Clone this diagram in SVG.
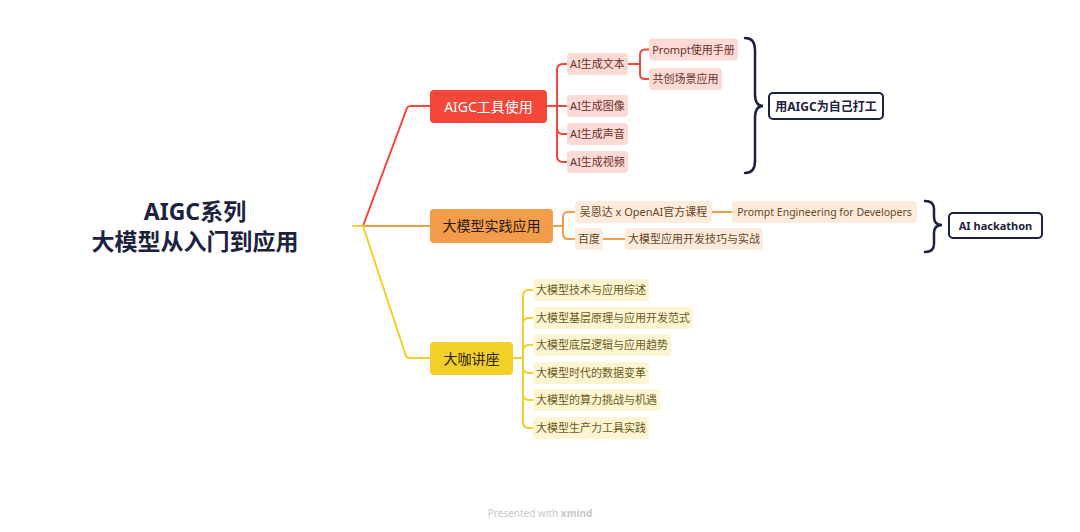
<svg xmlns="http://www.w3.org/2000/svg" width="1080" height="532" viewBox="0 0 1080 532">
<style>
text{font-family:"Noto Sans","Noto Sans CJK SC",sans-serif;}
.central{font-size:23px;font-weight:bold;fill:#1c2240;text-anchor:middle;}
.main{font-size:14px;text-anchor:middle;}
.sub{font-size:11px;text-anchor:middle;}
.c{fill:none;stroke-width:2;stroke-linecap:round;stroke-linejoin:round;}
.red{stroke:#F5463A;}
.org{stroke:#F39C4A;}
.yel{stroke:#F2D027;}
.rsub rect{fill:#FDDAD6;}
.rsub text{fill:#6e2f29;}
.osub rect{fill:#FDEBDB;}
.osub text{fill:#6b4526;}
.ysub rect{fill:#FDF4D2;}
.ysub text{fill:#6b5c1c;}
.brace{fill:none;stroke:#1c2240;stroke-width:2.5;stroke-linecap:round;}
.sum rect{fill:#fff;stroke:#1c2240;stroke-width:2;}
.sum text{font-size:12px;font-weight:bold;fill:#1c2240;text-anchor:middle;}
</style>
<rect width="1080" height="532" fill="#fff"/>
<g id="connectors">
  <path class="c yel" d="M353,226 H363"/>
  <path class="c red" d="M363,226 L407,108 Q408,106 411,106 H430"/>
  <path class="c org" d="M363,226 H430"/>
  <path class="c yel" d="M363,226 L406,356 Q407,358 410,358 H430"/>
  <path class="c red" d="M547,106 H557"/>
  <path class="c red" d="M557,106 V70 Q557,64 563,64 H567"/>
  <path class="c red" d="M557,106 H567"/>
  <path class="c red" d="M557,106 V128 Q557,134 563,134 H567"/>
  <path class="c red" d="M557,106 V156 Q557,162 563,162 H567"/>
  <path class="c red" d="M628,64 H640"/>
  <path class="c red" d="M640,64 V55 Q640,49.5 645,49.5 H649"/>
  <path class="c red" d="M640,64 V74 Q640,79 645,79 H649"/>
  <path class="c org" d="M553,226 H563"/>
  <path class="c org" d="M563,226 V217 Q563,212 568,212 H575"/>
  <path class="c org" d="M563,226 V234 Q563,239 568,239 H575"/>
  <path class="c org" d="M712,212 H732"/>
  <path class="c org" d="M603,239 H625"/>
  <path class="c yel" d="M513,358 H523"/>
  <path class="c yel" d="M523,358 V296 Q523,290 529,290 H533"/>
  <path class="c yel" d="M523,358 V324 Q523,318 529,318 H533"/>
  <path class="c yel" d="M523,358 V351 Q523,345 529,345 H533"/>
  <path class="c yel" d="M523,358 V367 Q523,373 529,373 H533"/>
  <path class="c yel" d="M523,358 V394 Q523,400 529,400 H533"/>
  <path class="c yel" d="M523,358 V422 Q523,428 529,428 H533"/>
</g>
<g id="central">
  <text class="central" x="195" y="220">AIGC系列</text>
  <text class="central" x="195" y="250">大模型从入门到应用</text>
</g>
<g id="aigc-tools">
  <rect x="430" y="90" width="117" height="33" rx="4" fill="#F5463A"/>
  <text class="main" x="488.5" y="111.5" fill="#fff">AIGC工具使用</text>
</g>
<g id="ai-text" class="rsub"><rect x="567" y="53" width="61" height="22" rx="4"/><text class="sub" x="597.5" y="68">AI生成文本</text></g>
<g id="prompt-manual" class="rsub"><rect x="649" y="38.5" width="89" height="22" rx="4"/><text class="sub" x="693.5" y="53.5">Prompt使用手册</text></g>
<g id="co-create" class="rsub"><rect x="649" y="68" width="73" height="22" rx="4"/><text class="sub" x="685.5" y="83">共创场景应用</text></g>
<g id="ai-image" class="rsub"><rect x="567" y="95" width="61" height="22" rx="4"/><text class="sub" x="597.5" y="110">AI生成图像</text></g>
<g id="ai-audio" class="rsub"><rect x="567" y="123" width="61" height="22" rx="4"/><text class="sub" x="597.5" y="138">AI生成声音</text></g>
<g id="ai-video" class="rsub"><rect x="567" y="151" width="61" height="22" rx="4"/><text class="sub" x="597.5" y="166">AI生成视频</text></g>
<g id="summary-1">
  <path class="brace" d="M745,38 Q755,38 755,50 V94 Q755,106 763,106 Q755,106 755,118 V161 Q755,173 745,173"/>
  <g class="sum"><rect x="769" y="93" width="114" height="26" rx="4"/><text x="826" y="110.5">用AIGC为自己打工</text></g>
</g>
<g id="practice">
  <rect x="430" y="209" width="123" height="34" rx="4" fill="#F39C4A"/>
  <text class="main" x="491.5" y="231" fill="#2a1a0c">大模型实践应用</text>
</g>
<g id="wu" class="osub"><rect x="575" y="201" width="137" height="22" rx="4"/><text class="sub" x="643.5" y="216">吴恩达 x OpenAI官方课程</text></g>
<g id="prompt-eng" class="osub"><rect x="732" y="201" width="185" height="22" rx="4"/><text class="sub" x="824.5" y="216" style="font-size:10.5px">Prompt Engineering for Developers</text></g>
<g id="baidu" class="osub"><rect x="575" y="228" width="28" height="22" rx="4"/><text class="sub" x="589" y="243">百度</text></g>
<g id="baidu-course" class="osub"><rect x="625" y="228" width="138" height="22" rx="4"/><text class="sub" x="694" y="243">大模型应用开发技巧与实战</text></g>
<g id="summary-2">
  <path class="brace" d="M925,201 Q934,201 934,209 V217 Q934,225 942,225 Q934,225 934,233 V244 Q934,252 925,252"/>
  <g class="sum"><rect x="949" y="213" width="93" height="25" rx="4"/><text x="995.5" y="229.5" style="font-size:11px">AI hackathon</text></g>
</g>
<g id="lecture">
  <rect x="430" y="342" width="83" height="33" rx="4" fill="#F2D027"/>
  <text class="main" x="471.5" y="363.5" fill="#2a2408">大咖讲座</text>
</g>
<g id="l1" class="ysub"><rect x="533" y="279" width="116" height="22" rx="4"/><text class="sub" x="591" y="294">大模型技术与应用综述</text></g>
<g id="l2" class="ysub"><rect x="533" y="307" width="160" height="22" rx="4"/><text class="sub" x="613" y="322">大模型基层原理与应用开发范式</text></g>
<g id="l3" class="ysub"><rect x="533" y="334" width="138" height="22" rx="4"/><text class="sub" x="602" y="349">大模型底层逻辑与应用趋势</text></g>
<g id="l4" class="ysub"><rect x="533" y="362" width="116" height="22" rx="4"/><text class="sub" x="591" y="377">大模型时代的数据变革</text></g>
<g id="l5" class="ysub"><rect x="533" y="389" width="127" height="22" rx="4"/><text class="sub" x="596.5" y="404">大模型的算力挑战与机遇</text></g>
<g id="l6" class="ysub"><rect x="533" y="417" width="116" height="22" rx="4"/><text class="sub" x="591" y="432">大模型生产力工具实践</text></g>
<g id="footer">
  <text x="540" y="516.5" font-size="10" fill="#c8c8c8" text-anchor="middle">Presented with <tspan font-weight="bold">xmind</tspan></text>
</g>
</svg>
